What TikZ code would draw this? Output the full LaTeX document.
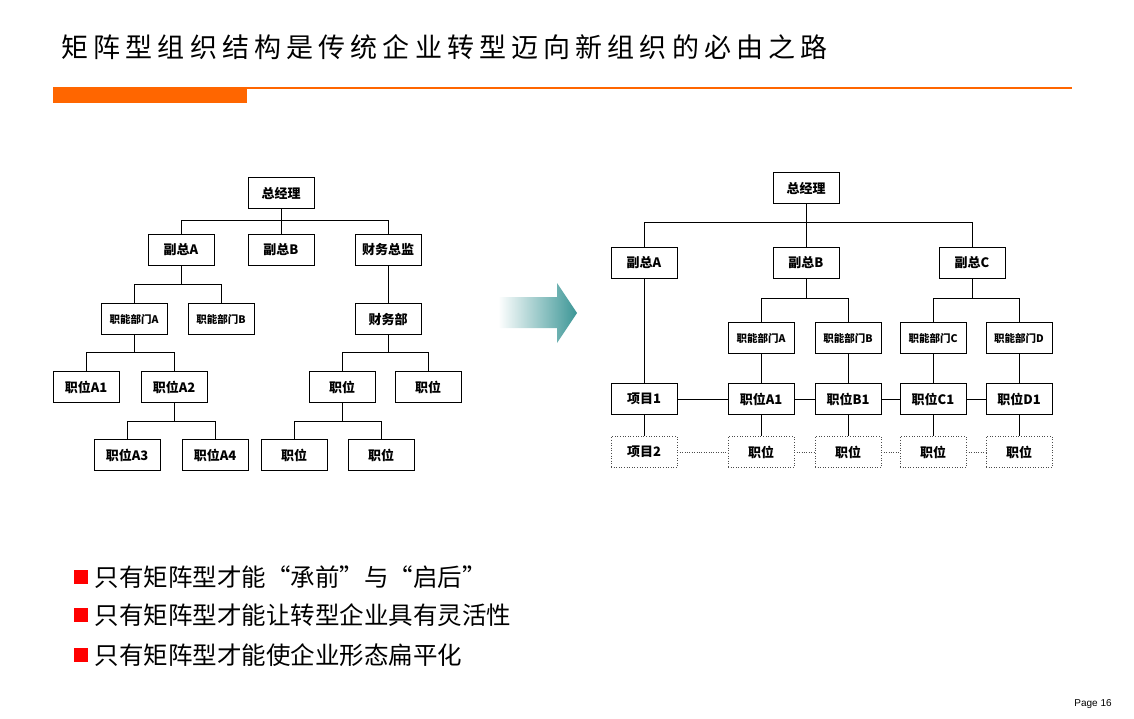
\documentclass[tikz,border=0pt]{standalone}
\usepackage{fontspec}
\setmainfont{Liberation Sans}
\newfontfamily\cjk{Noto Sans CJK SC}
\newfontfamily\cjkwide[LetterSpace=19]{Noto Sans CJK SC}
\usetikzlibrary{arrows,positioning}
\definecolor{orangebar}{RGB}{255,102,0}
\definecolor{tealarrow}{RGB}{60,150,150}
\begin{document}
\begin{tikzpicture}[x=1pt,y=-1pt,semithick,
    box/.style={draw=black,fill=white,minimum width=66pt,minimum height=31pt,inner sep=1pt,font=\cjk\bfseries\fontsize{13}{13}\selectfont},
    small/.style={box,font=\cjk\bfseries\fontsize{10.5}{11}\selectfont},
    dbox/.style={box,dotted,draw=black!70},
    link/.style={draw=black,thin},
    dlink/.style={draw=black!70,dotted,thin},
    bullet/.style={anchor=west,font=\cjk\fontsize{24.5}{26}\selectfont}]
  \useasboundingbox (0,0) rectangle (1134,718);
  % header
  \node[anchor=west,font=\cjkwide\fontsize{27}{29}\selectfont] (title) at (58,47) {矩阵型组织结构是传统企业转型迈向新组织的必由之路};
  \fill[orangebar] (53,87) rectangle (1072,89);
  \fill[orangebar] (53,88) rectangle (247,103);

  % left tree
  \node[box] (GM)  at (281,193) {总经理};
  \node[box] (VA)  at (181,250) {副总A};
  \node[box] (VB)  at (281,250) {副总B};
  \node[box] (CFO) at (388,250) {财务总监};
  \node[small] (DA) at (134,319) {职能部门A};
  \node[small] (DB) at (221,319) {职能部门B};
  \node[box] (FD)  at (388,319) {财务部};
  \node[box] (PA1) at (86,387)  {职位A1};
  \node[box] (PA2) at (174,387) {职位A2};
  \node[box] (PF1) at (342,387) {职位};
  \node[box] (PF2) at (428,387) {职位};
  \node[box] (PA3) at (127,455) {职位A3};
  \node[box] (PA4) at (215,455) {职位A4};
  \node[box] (PF3) at (294,455) {职位};
  \node[box] (PF4) at (381,455) {职位};

  \draw[link] (GM.south) -- ++(0,11) -| (VA.north);
  \draw[link] (GM.south) -- ++(0,11) -| (CFO.north);
  \draw[link] (GM.south) -- (VB.north);
  \draw[link] (VA.south) -- ++(0,18) -| (DA.north);
  \draw[link] (VA.south) -- ++(0,18) -| (DB.north);
  \draw[link] (CFO.south) -- (FD.north);
  \draw[link] (DA.south) -- ++(0,17) -| (PA1.north);
  \draw[link] (DA.south) -- ++(0,17) -| (PA2.north);
  \draw[link] (FD.south) -- ++(0,17) -| (PF1.north);
  \draw[link] (FD.south) -- ++(0,17) -| (PF2.north);
  \draw[link] (PA2.south) -- ++(0,18) -| (PA3.north);
  \draw[link] (PA2.south) -- ++(0,18) -| (PA4.north);
  \draw[link] (PF1.south) -- ++(0,18) -| (PF3.north);
  \draw[link] (PF1.south) -- ++(0,18) -| (PF4.north);

  % arrow
  \shade[left color=white,right color=tealarrow]
    (498,297) -- (557,297) -- (557,283) -- (577,313) -- (557,343) -- (557,328) -- (498,328) -- cycle;

  % right tree
  \node[box] (RGM) at (806,188) {总经理};
  \node[box] (RVA) at (644,263) {副总A};
  \node[box] (RVB) at (806,263) {副总B};
  \node[box] (RVC) at (972,263) {副总C};
  \node[small] (RDA) at (761,338)  {职能部门A};
  \node[small] (RDB) at (848,338)  {职能部门B};
  \node[small] (RDC) at (933,338)  {职能部门C};
  \node[small] (RDD) at (1019,338) {职能部门D};
  \node[box] (P1)  at (644,399)  {项目1};
  \node[box] (RA1) at (761,399)  {职位A1};
  \node[box] (RB1) at (848,399)  {职位B1};
  \node[box] (RC1) at (933,399)  {职位C1};
  \node[box] (RD1) at (1019,399) {职位D1};
  \node[dbox] (P2)  at (644,452)  {项目2};
  \node[dbox] (RA2) at (761,452)  {职位};
  \node[dbox] (RB2) at (848,452)  {职位};
  \node[dbox] (RC2) at (933,452)  {职位};
  \node[dbox] (RD2) at (1019,452) {职位};

  \draw[link] (RGM.south) -- ++(0,18) -| (RVA.north);
  \draw[link] (RGM.south) -- ++(0,18) -| (RVC.north);
  \draw[link] (RGM.south) -- (RVB.north);
  \draw[link] (RVB.south) -- ++(0,19) -| (RDA.north);
  \draw[link] (RVB.south) -- ++(0,19) -| (RDB.north);
  \draw[link] (RVC.south) -- ++(0,19) -| (RDC.north);
  \draw[link] (RVC.south) -- ++(0,19) -| (RDD.north);
  \draw[link] (RVA) -- (P1);
  \foreach \a/\b in {RDA/RA1,RDB/RB1,RDC/RC1,RDD/RD1,RA1/RA2,RB1/RB2,RC1/RC2,RD1/RD2,P1/P2,P1/RA1,RA1/RB1,RB1/RC1,RC1/RD1}
    \draw[link] (\a) -- (\b);
  \foreach \a/\b in {P2/RA2,RA2/RB2,RB2/RC2,RC2/RD2}
    \draw[dlink] (\a) -- (\b);

  % bullets
  \foreach \y/\t [count=\i] in {577/只有矩阵型才能“承前”与“启后”,615/只有矩阵型才能让转型企业具有灵活性,655/只有矩阵型才能使企业形态扁平化} {
    \fill[red] (74,\y-7) rectangle (88,\y+7);
    \node[bullet] (b\i) at (91,\y) {\t};
  }
  \node[font=\fontsize{10}{10}\selectfont] (page) at (1093,704) {Page 16};
\end{tikzpicture}
\end{document}
